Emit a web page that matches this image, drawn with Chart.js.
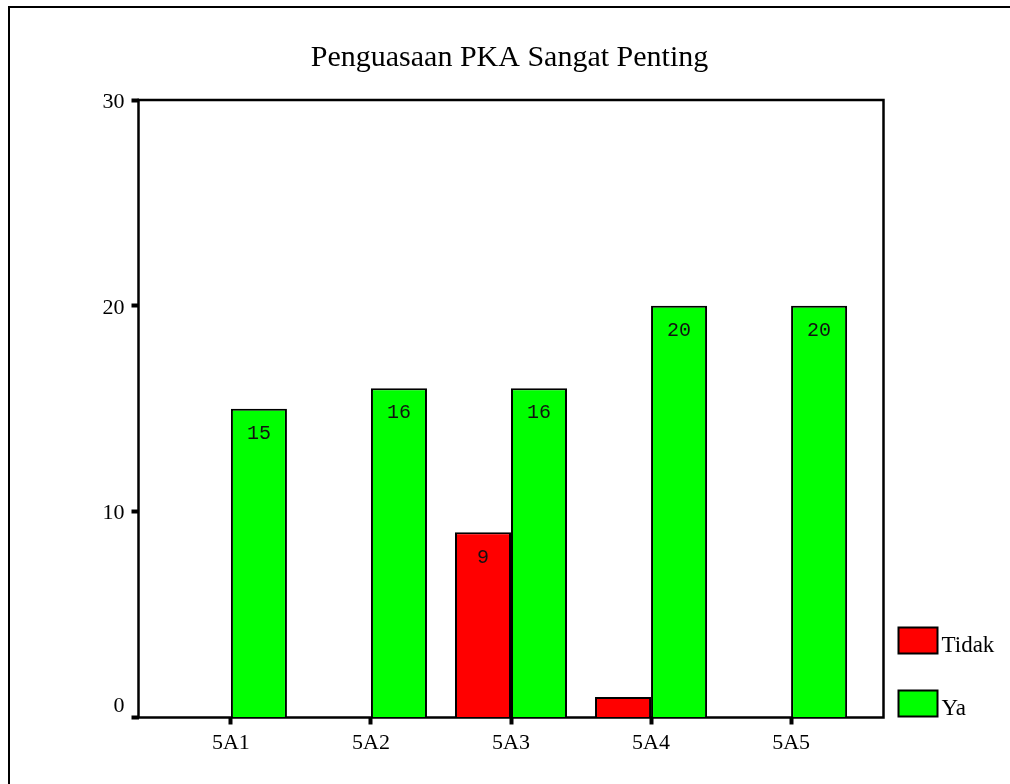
<!DOCTYPE html>
<html>
<head>
<meta charset="utf-8">
<title>Penguasaan PKA Sangat Penting</title>
<script src="https://cdn.jsdelivr.net/npm/chart.js@4.4.1/dist/chart.umd.min.js"></script>
<style>
  body { margin: 0; background: #fff; }
  #wrap { width: 1010px; height: 784px; }
</style>
</head>
<body>
<div id="wrap"><canvas id="pkaChart"></canvas></div>
<script>
// counts
const categories = ['5A1', '5A2', '5A3', '5A4', '5A5'];
const seriesNames = ['Tidak', 'Ya'];
const tidakCounts = [0, 0, 9, 1, 0];
const yaCounts = [15, 16, 16, 20, 20];
const yTicks = [0, 10, 20, 30];

const serif = "'Liberation Serif', 'Times New Roman', serif";

// thin lines on the top and left of the page, like the exported picture
const outerFrame = {
  id: 'outerFrame',
  beforeDraw(chart) {
    const ctx = chart.ctx;
    ctx.save();
    ctx.fillStyle = '#000';
    ctx.fillRect(8, 6, chart.width - 8, 2);
    ctx.fillRect(8, 6, 2, chart.height - 6);
    ctx.restore();
  },
  beforeDatasetsDraw(chart) {
    const a = chart.chartArea;
    const ctx = chart.ctx;
    ctx.save();
    ctx.strokeStyle = '#000';
    ctx.lineWidth = 2.5;
    ctx.strokeRect(a.left, a.top, a.right - a.left, a.bottom - a.top);
    ctx.restore();
  }
};

// value printed inside the top of each bar (only if the bar is tall enough)
const barValues = {
  id: 'barValues',
  afterDatasetsDraw(chart) {
    const ctx = chart.ctx;
    ctx.save();
    ctx.font = "20px 'Liberation Mono', 'Courier New', monospace";
    ctx.fillStyle = '#111';
    ctx.textAlign = 'center';
    ctx.textBaseline = 'middle';
    chart.data.datasets.forEach((ds, i) => {
      chart.getDatasetMeta(i).data.forEach((bar, j) => {
        const v = ds.data[j].y;
        if (!v || bar.base - bar.y < 40) return;
        ctx.fillText(String(v), bar.x, bar.y + 25);
      });
    });
    ctx.restore();
  }
};

// legend boxes sit at the bottom right, next to the plot
const sideLegend = {
  id: 'sideLegend',
  afterDraw(chart) {
    const a = chart.chartArea;
    const ctx = chart.ctx;
    const n = chart.data.datasets.length;
    ctx.save();
    ctx.font = '23px ' + serif;
    ctx.textBaseline = 'alphabetic';
    ctx.textAlign = 'left';
    chart.data.datasets.forEach((ds, i) => {
      const x = a.right + 15;
      const y = a.bottom - 27 - (n - 1 - i) * 63;
      ctx.fillStyle = ds.backgroundColor;
      ctx.fillRect(x, y, 39, 26);
      ctx.strokeStyle = '#000';
      ctx.lineWidth = 2;
      ctx.strokeRect(x, y, 39, 26);
      ctx.fillStyle = '#000';
      ctx.fillText(ds.label, x + 43, y + 24);
    });
    ctx.restore();
  }
};

const ctx = document.getElementById('pkaChart').getContext('2d');
new Chart(ctx, {
  type: 'bar',
  data: {
    datasets: [{
      label: seriesNames[0],
      data: tidakCounts.map((v, i) => ({ x: i, y: v })),
      backgroundColor: '#ff0000',
      borderColor: '#000',
      borderWidth: 2,
      categoryPercentage: 0.8,
      barPercentage: 1.0
    }, {
      label: seriesNames[1],
      data: yaCounts.map((v, i) => ({ x: i, y: v })),
      backgroundColor: '#00ff00',
      borderColor: '#000',
      borderWidth: 2,
      categoryPercentage: 0.8,
      barPercentage: 1.0
    }]
  },
  options: {
    responsive: true,
    maintainAspectRatio: false,
    animation: false,
    layout: { padding: { left: 9, top: 0, right: 0, bottom: 0 } },
    scales: {
      x: {
        type: 'linear',
        min: -0.66,
        max: 4.66,
        offset: false,
        afterBuildTicks: s => { s.ticks = categories.map((c, i) => ({ value: i })); },
        afterFit: s => { s.height = 66.5; },
        ticks: {
          callback: v => categories[v],
          color: '#000',
          font: { family: serif, size: 22 },
          padding: 6,
          maxRotation: 0
        },
        grid: { offset: false, drawOnChartArea: false, tickLength: 7, tickWidth: 4, tickColor: '#000' },
        border: { display: false }
      },
      y: {
        min: 0,
        max: 30,
        afterBuildTicks: s => { s.ticks = yTicks.map(v => ({ value: v })); },
        afterFit: s => { s.width = 129.5; },
        ticks: {
          callback: v => (v === 0 ? ['0', ''] : String(v)),
          color: '#000',
          font: { family: serif, size: 22 },
          padding: 7,
          labelOffset: 2
        },
        grid: { drawOnChartArea: false, tickLength: 7, tickWidth: 4, tickColor: '#000' },
        border: { display: false }
      },
      y2: {
        position: 'right',
        display: true,
        afterFit: s => { s.width = 126.5; },
        ticks: { display: false },
        grid: { display: false },
        border: { display: false }
      }
    },
    plugins: {
      legend: { display: false },
      tooltip: { enabled: false },
      title: {
        display: true,
        text: 'Penguasaan PKA Sangat Penting',
        color: '#000',
        font: { family: serif, size: 30, weight: 'normal' },
        padding: { top: 40, bottom: 24 }
      }
    }
  },
  plugins: [outerFrame, barValues, sideLegend]
});
</script>
</body>
</html>
